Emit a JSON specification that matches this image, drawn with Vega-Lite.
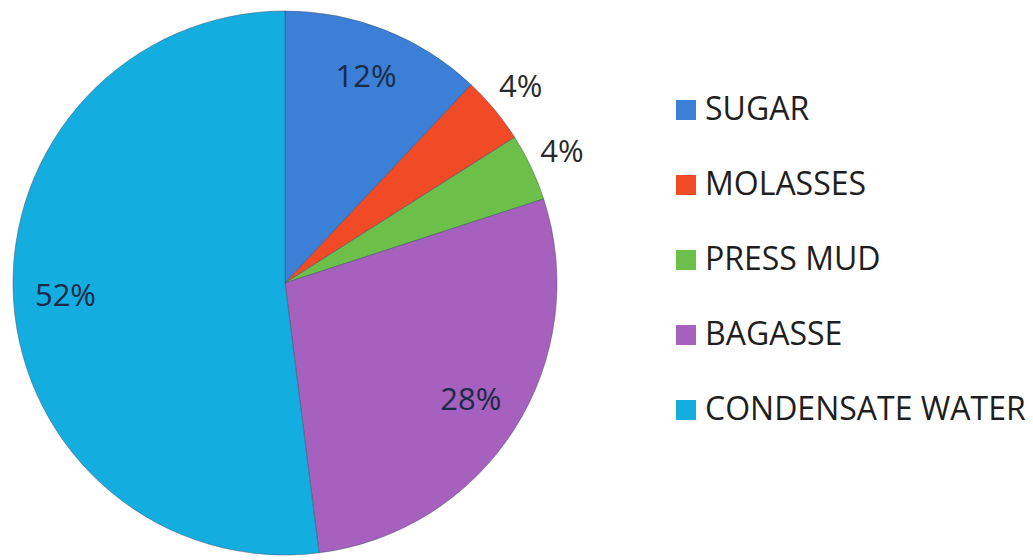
{
  "$schema": "https://vega.github.io/schema/vega-lite/v6.json",
  "width": 570,
  "height": 566,
  "padding": {"left": 0, "top": 0, "right": 463, "bottom": 0},
  "autosize": {"type": "none"},
  "background": "white",
  "view": {"stroke": null},
  "data": {
    "values": [
      {"category": "SUGAR", "pct": 0.12, "order": 1},
      {"category": "MOLASSES", "pct": 0.04, "order": 2},
      {"category": "PRESS MUD", "pct": 0.04, "order": 3},
      {"category": "BAGASSE", "pct": 0.28, "order": 4},
      {"category": "CONDENSATE WATER", "pct": 0.52, "order": 5}
    ]
  },
  "encoding": {
    "theta": {"field": "pct", "type": "quantitative", "stack": true},
    "order": {"field": "order", "type": "quantitative", "sort": "ascending"}
  },
  "layer": [
    {
      "mark": {"type": "arc", "outerRadius": 272, "stroke": "#3d4f66", "strokeWidth": 0.8, "strokeOpacity": 0.6},
      "encoding": {
        "color": {
          "field": "category",
          "type": "nominal",
          "sort": null,
          "scale": {
            "domain": ["SUGAR", "MOLASSES", "PRESS MUD", "BAGASSE", "CONDENSATE WATER"],
            "range": ["#3b80d6", "#f04a26", "#6cbf48", "#a660bd", "#14ade0"]
          },
          "legend": {
            "title": null,
            "orient": "none",
            "legendX": 670,
            "legendY": 94,
            "symbolType": "square",
            "symbolSize": 400,
            "symbolStrokeWidth": 0,
            "labelFont": "Open Sans",
            "labelFontSize": 32,
            "labelColor": "#1e1e1e",
            "labelOffset": 3,
            "rowPadding": 43,
            "labelLimit": 500
          }
        }
      }
    },
    {
      "mark": {"type": "text", "radius": 220, "font": "Open Sans", "fontSize": 31, "fill": "#1a2a48"},
      "encoding": {
        "text": {"condition": {"test": "datum.pct >= 0.1", "field": "pct", "type": "quantitative", "format": ".0%"}, "value": ""}
      }
    },
    {
      "mark": {"type": "text", "radius": 306, "font": "Open Sans", "fontSize": 31, "fill": "#2a2a2a"},
      "encoding": {
        "text": {"condition": {"test": "datum.pct < 0.1", "field": "pct", "type": "quantitative", "format": ".0%"}, "value": ""}
      }
    }
  ]
}
